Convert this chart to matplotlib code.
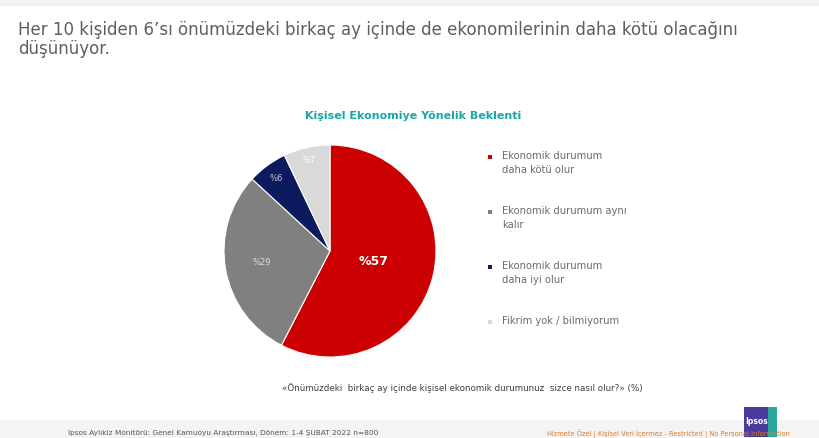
import matplotlib
matplotlib.use("Agg")
import matplotlib.pyplot as plt
import numpy as np
from matplotlib.patches import Rectangle

plt.rcParams['font.family'] = ['DejaVu Sans']

# ---- data ----
categories = ["Ekonomik durumum\ndaha kötü olur",
              "Ekonomik durumum aynı\nkalır",
              "Ekonomik durumum\ndaha iyi olur",
              "Fikrim yok / bilmiyorum"]
values = [57, 29, 6, 7]
value_labels = ["%57", "%29", "%6", "%7"]
title = "Her 10 kişiden 6’sı önümüzdeki birkaç ay içinde de ekonomilerinin daha kötü olacağını\ndüşünüyor."
chart_title = "Kişisel Ekonomiye Yönelik Beklenti"
question = "«Önümüzdeki  birkaç ay içinde kişisel ekonomik durumunuz  sizce nasıl olur?» (%)"
footer_left = "Ipsos Aylıkiz Monitörü: Genel Kamuoyu Araştırması, Dönem: 1-4 ŞUBAT 2022 n=800"
footer_right = "Hizmete Özel | Kişisel Veri İçermez - Restricted | No Personal Information"

colors = ["#cc0000", "#808080", "#0c1a5e", "#d9d9d9"]
label_r = [0.42, 0.65, 0.85, 0.88]
label_size = [9, 6, 6, 6]
label_weight = ["bold", "normal", "normal", "normal"]
label_color = ["white", "#dddddd", "#cccccc", "white"]

W, H = 820, 438
fig = plt.figure(figsize=(W / 100, H / 100), dpi=100)
fig.patch.set_facecolor("white")

def px(x, y):
    return x / W, 1 - y / H

# subtle top & bottom bands
fig.add_artist(Rectangle((0, 1 - 6 / H), 1, 6 / H, transform=fig.transFigure,
                         facecolor="#f2f2f2", edgecolor="none", zorder=0))
fig.add_artist(Rectangle((0, 0), 1, 18 / H, transform=fig.transFigure,
                         facecolor="#f4f4f4", edgecolor="none", zorder=0))

# title
fig.text(*px(18, 21), title, fontsize=12, color="#5e5e5e", ha="left", va="top",
         linespacing=1.05)

# chart title
fig.text(*px(413, 116), chart_title, fontsize=8, color="#1aa6a6", fontweight="bold",
         ha="center", va="center")

# pie
cx, cy, r = 330, 251, 106
ax = fig.add_axes([(cx - r) / W, (H - cy - r) / H, 2 * r / W, 2 * r / H])
wedges, _ = ax.pie(values, colors=colors, startangle=90, counterclock=False,
                   radius=1.0, wedgeprops=dict(edgecolor="white", linewidth=0.8))
ax.set_xlim(-1, 1)
ax.set_ylim(-1, 1)
ax.set_aspect("auto")
ax.axis("off")
for w, lab, lr, fs, fw, lc in zip(wedges, value_labels, label_r, label_size, label_weight, label_color):
    ang = np.deg2rad((w.theta1 + w.theta2) / 2)
    ax.text(lr * np.cos(ang), lr * np.sin(ang), lab, ha="center", va="center",
            fontsize=fs, fontweight=fw, color=lc)

# legend
leg_y = [157, 212, 267, 322]
for c, cat, y in zip(colors, categories, leg_y):
    fig.add_artist(Rectangle(px(488, y + 2), 4 / W, 4 / H, transform=fig.transFigure,
                             facecolor=c, edgecolor="none"))
    fig.text(*px(502, y - 6), cat, fontsize=7.2, color="#6b6b6b", ha="left", va="top",
             linespacing=1.45)

# question
fig.text(*px(462, 388), question, fontsize=6.3, color="#404040", ha="center", va="center")

# footer
fig.text(*px(68, 433), footer_left, fontsize=5.3, color="#555555", ha="left", va="center")
fig.text(*px(547, 434), footer_right, fontsize=4.8, color="#e07b2a", ha="left", va="center")

# Ipsos logo
fig.add_artist(Rectangle(px(744, 437), 33 / W, 30 / H, transform=fig.transFigure,
                         facecolor="#2aa8a0", edgecolor="none", zorder=3))
fig.add_artist(Rectangle(px(744, 437), 24 / W, 30 / H, transform=fig.transFigure,
                         facecolor="#4a3a9c", edgecolor="none", zorder=3))
fig.text(*px(757, 422), "Ipsos", fontsize=5.5, color="white", fontweight="bold",
         ha="center", va="center", zorder=4)

fig.savefig("out.png", dpi=100, facecolor=fig.get_facecolor())
